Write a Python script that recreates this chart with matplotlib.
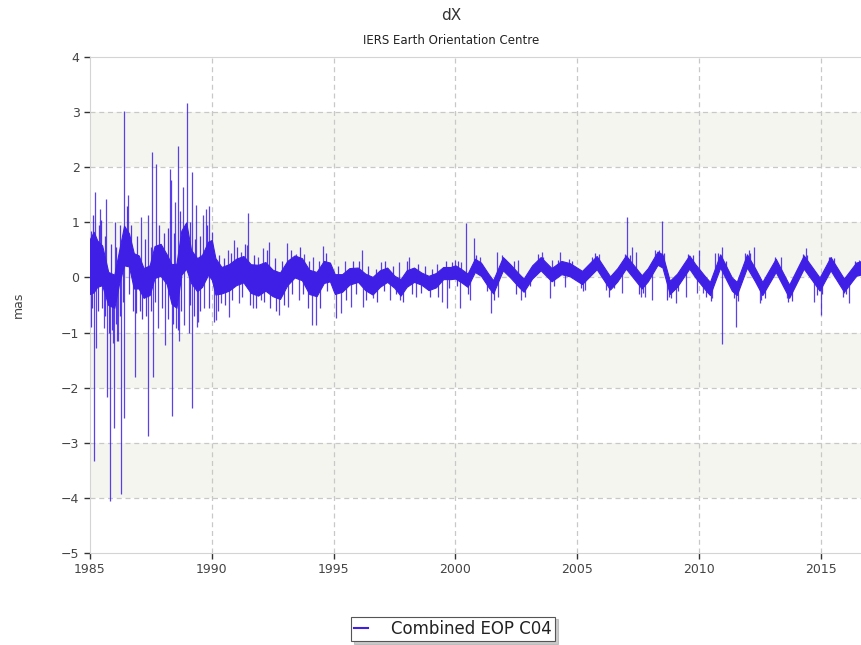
import numpy as np
import matplotlib.pyplot as plt

plt.rcParams['font.family'] = 'DejaVu Sans'

LINE = '#3f1fe6'
BAND = '#f5f5f0'
GRID = '#c8c8c8'

# dense part of the daily series: centre and half-width of the band (mas)
core_year = [1985.0, 1985.15, 1985.3, 1985.5, 1985.75, 1986.0, 1986.2, 1986.4, 1986.6, 1986.8,
             1987.0, 1987.2, 1987.45, 1987.65, 1987.9, 1988.15, 1988.35, 1988.55, 1988.75, 1988.95,
             1989.15, 1989.4, 1989.6, 1989.85, 1990.0, 1990.15, 1990.4, 1990.7, 1991.0, 1991.3,
             1991.6, 1991.9, 1992.2, 1992.5, 1992.8, 1993.1, 1993.4, 1993.7, 1994.0, 1994.3,
             1994.6, 1994.85, 1995.05, 1995.35, 1995.65, 1996.0, 1996.3, 1996.6, 1996.9, 1997.2,
             1997.5, 1997.75, 1998.0, 1998.3, 1998.6, 1998.9, 1999.2, 1999.5, 1999.8,
             2000.0, 2000.25, 2000.5, 2000.8, 2001.05, 2001.35, 2001.55, 2001.95, 2002.25, 2002.6,
             2002.8, 2003.15, 2003.5, 2003.95, 2004.35, 2004.7, 2005.2, 2005.8, 2006.35, 2006.65,
             2007.0, 2007.65, 2007.9, 2008.3, 2008.5, 2008.8, 2009.1, 2009.6, 2009.85, 2010.25,
             2010.45, 2010.87, 2011.35, 2011.55, 2011.97, 2012.3, 2012.6, 2013.15, 2013.7, 2014.3,
             2014.95, 2015.4, 2015.95, 2016.45, 2016.7]
core_mid = [0.2, 0.28, 0.25, 0.22, -0.2, -0.25, 0.2, 0.58, 0.5, 0.12,
            0.1, -0.1, -0.05, 0.28, 0.32, 0.15, -0.12, -0.15, 0.45, 0.58,
            0.2, 0.05, 0.12, 0.35, 0.32, 0.02, -0.05, 0.0, 0.1, 0.15,
            -0.02, -0.05, 0.02, -0.1, -0.15, 0.08, 0.2, 0.15, -0.08, -0.12,
            0.1, 0.1, -0.12, -0.1, 0.02, 0.05, -0.08, -0.15, -0.02, 0.05,
            -0.08, -0.18, -0.02, 0.05, -0.02, -0.1, -0.05, 0.08, 0.08,
            0.1, 0.03, -0.05, 0.22, 0.15, -0.05, -0.17, 0.25, 0.12, -0.05,
            -0.14, 0.1, 0.25, 0.05, 0.18, 0.14, 0.0, 0.27, -0.1, 0.05,
            0.28, -0.08, 0.05, 0.35, 0.3, -0.18, -0.05, 0.28, 0.12, -0.1,
            -0.2, 0.3, -0.12, -0.2, 0.3, 0.05, -0.2, 0.22, -0.25, 0.28,
            -0.12, 0.25, -0.14, 0.15, 0.18]
core_spread = [0.5, 0.55, 0.42, 0.36, 0.3, 0.3, 0.3, 0.36, 0.3, 0.32,
               0.3, 0.27, 0.27, 0.29, 0.29, 0.27, 0.36, 0.4, 0.4, 0.42,
               0.3, 0.3, 0.29, 0.3, 0.36, 0.33, 0.24, 0.24, 0.24, 0.24,
               0.26, 0.28, 0.26, 0.24, 0.24, 0.22, 0.2, 0.2, 0.22, 0.22,
               0.2, 0.17, 0.18, 0.16, 0.15, 0.13, 0.15, 0.16, 0.15, 0.13,
               0.11, 0.15, 0.15, 0.13, 0.11, 0.13, 0.13, 0.11, 0.11,
               0.12, 0.12, 0.12, 0.12, 0.12, 0.12, 0.12, 0.12, 0.12, 0.12,
               0.12, 0.12, 0.12, 0.12, 0.12, 0.12, 0.12, 0.12, 0.12, 0.12,
               0.12, 0.12, 0.12, 0.12, 0.12, 0.12, 0.12, 0.12, 0.12, 0.12,
               0.12, 0.12, 0.12, 0.12, 0.12, 0.12, 0.12, 0.12, 0.12, 0.12,
               0.12, 0.12, 0.12, 0.12, 0.12]

# large isolated excursions (year, mas)
spike_year = [1985.16, 1985.2, 1985.25, 1985.4, 1985.56, 1985.65, 1985.7, 1985.82, 1985.94, 1986.0,
              1986.02, 1986.12, 1986.17, 1986.28, 1986.39, 1986.4, 1986.55, 1986.83, 1987.1, 1987.38,
              1987.4, 1987.55, 1987.6, 1987.72, 1987.8, 1988.1, 1988.3, 1988.33, 1988.36, 1988.5,
              1988.54, 1988.63, 1988.65, 1988.8, 1988.88, 1989.0, 1989.06, 1989.18, 1989.2, 1989.36,
              1989.38, 1989.43, 1989.63, 1989.7, 1989.76, 1989.87, 1990.0, 1990.1, 1990.18, 1990.38,
              1990.65, 1990.72, 1990.93, 1991.13, 1991.2, 1991.45, 1991.5, 1991.68, 1991.9, 1992.0,
              1992.1, 1992.35, 1992.77, 1993.1, 1993.12, 1993.45, 1993.6, 1993.8, 1994.11, 1994.15,
              1994.28, 1994.55, 1995.1, 1995.3, 1995.45, 1995.7, 1996.15, 1996.19, 1996.6, 1996.95,
              1997.3, 1997.7, 1997.72, 1998.1, 1998.37, 1999.25, 1999.47, 1999.67, 1999.97, 2000.18,
              2000.25, 2000.45, 2000.6, 2000.77, 2001.0, 2001.48, 2001.7, 2001.76, 2002.03, 2002.58,
              2002.7, 2003.55, 2003.9, 2003.95, 2004.3, 2004.5, 2004.65, 2005.33, 2005.47, 2005.88,
              2006.2, 2006.85, 2007.03, 2007.25, 2007.4, 2007.6, 2007.8, 2008.08, 2008.2, 2008.48,
              2008.76, 2009.05, 2009.45, 2009.66, 2009.9, 2010.0, 2010.18, 2010.52, 2010.66, 2010.94,
              2010.93, 2011.52, 2012.04, 2012.25, 2012.52, 2013.14, 2013.35, 2013.62, 2014.38, 2014.73,
              2015.0, 2015.41, 2015.96, 2016.17, 2016.58]
spike_val = [-3.33, 1.55, -1.28, 1.25, -0.92, 1.43, -2.16, -4.05, -1.19, -2.73,
             1.0, -1.16, -1.16, -3.93, -2.55, 3.02, 1.49, -1.8, 1.1, -2.88,
             1.13, 2.27, -1.8, 2.06, -0.92, -1.22, 1.97, 1.76, -2.52, 1.37,
             -0.92, 2.39, -1.16, 1.64, -0.86, 3.16, -1.01, -2.37, 1.91, 1.31,
             -0.89, -0.8, 1.13, -0.56, 1.25, 1.3, 0.83, -0.8, -0.77, -0.47,
             0.5, -0.71, 0.68, -0.47, 0.47, 0.59, 1.17, -0.56, 0.37, -0.41,
             0.53, 0.65, -0.68, 0.62, -0.53, 0.43, -0.41, 0.43, -0.86, 0.37,
             -0.86, 0.57, -0.74, -0.65, 0.3, -0.53, 0.5, -0.53, -0.38, 0.28,
             -0.41, 0.28, -0.41, 0.37, -0.35, 0.25, -0.44, -0.56, 0.31, -0.56,
             0.28, 0.98, -0.41, 0.71, 0.37, -0.65, 0.47, -0.35, 0.34, 0.31,
             -0.41, 0.47, -0.38, 0.31, 0.47, -0.17, 0.34, -0.23, 0.22, 0.43,
             -0.22, -0.29, 1.09, 0.56, 0.47, -0.35, -0.35, -0.41, 0.5, 1.03,
             -0.35, -0.47, -0.35, 0.34, -0.29, 0.5, -0.29, -0.38, 0.44, 0.56,
             -1.21, -0.89, 0.5, 0.56, -0.47, 0.34, 0.37, -0.38, 0.53, -0.44,
             -0.68, 0.37, -0.29, -0.46, 0.31]

# smaller day-to-day scatter along the edges of the band (year, mas)
minor_year = [1985.05, 1985.12, 1985.35, 1985.45, 1985.6, 1985.88, 1986.08, 1986.25, 1986.5, 1986.7,
              1986.95, 1987.25, 1987.5, 1987.85, 1988.05, 1988.2, 1988.45, 1988.7, 1989.1, 1989.3,
              1989.5, 1989.8,
              1985.03, 1985.1, 1985.33, 1985.48, 1985.62, 1985.78, 1985.9, 1986.05, 1986.22, 1986.35,
              1986.62, 1986.75, 1986.9, 1987.05, 1987.15, 1987.3, 1987.52, 1987.68, 1987.95, 1988.22,
              1988.42, 1988.6, 1988.72, 1989.12, 1989.25, 1989.52, 1989.9,
              1990.3, 1990.5, 1990.8, 1991.05, 1991.35, 1991.75, 1992.25, 1992.6, 1992.9, 1993.25,
              1993.62, 1994.0, 1994.4, 1994.7, 1995.2, 1995.8, 1996.05, 1996.4, 1996.75, 1997.1,
              1997.45, 1998.0, 1998.45, 1998.75, 1999.05, 1999.6, 1999.85,
              1990.25, 1990.55, 1990.85, 1991.25, 1991.55, 1991.8, 1992.15, 1992.4, 1992.62, 1992.95,
              1993.3, 1993.75, 1993.95, 1994.45, 1994.75, 1995.5, 1995.9, 1996.35, 1996.8, 1997.05,
              1997.55, 1997.85, 1998.2, 1998.6, 1998.95, 1999.3, 1999.75,
              2000.1, 2000.85, 2001.92, 2002.4, 2003.4, 2003.6, 2004.2, 2004.8, 2005.6, 2005.75,
              2006.7, 2006.95, 2007.15, 2008.35, 2008.55, 2009.55, 2009.75, 2010.8, 2011.1, 2011.9,
              2012.1, 2013.1, 2014.25, 2014.45, 2015.35, 2015.55, 2016.4, 2016.62,
              2000.05, 2000.5, 2001.3, 2001.6, 2002.5, 2002.85, 2003.05, 2004.05, 2005.15, 2005.25,
              2006.3, 2006.5, 2007.55, 2007.7, 2008.7, 2008.85, 2009.15, 2010.3, 2010.5, 2011.45,
              2011.6, 2012.55, 2012.7, 2013.65, 2013.8, 2014.85, 2015.05, 2015.9, 2016.05]
minor_val = [0.85, 1.13, 0.95, 1.05, 0.75, 0.6, 0.55, 0.95, 1.3, 0.95,
             0.75, 0.7, 0.55, 0.95, 0.8, 0.9, 0.8, 1.2, 1.0, 0.7,
             0.75, 0.95,
             -0.9, -0.55, -0.6, -0.55, -0.7, -1.0, -0.95, -0.85, -0.7, -0.45,
             -0.3, -0.6, -0.65, -0.6, -0.75, -0.7, -0.6, -0.45, -0.55, -0.75,
             -0.85, -0.95, -0.6, -0.5, -0.7, -0.6, -0.55,
             0.4, 0.35, 0.45, 0.55, 0.6, 0.4, 0.5, 0.35, 0.3, 0.5,
             0.55, 0.3, 0.3, 0.45, 0.2, 0.3, 0.3, 0.2, 0.15, 0.3,
             0.2, 0.3, 0.25, 0.2, 0.15, 0.3, 0.28,
             -0.6, -0.5, -0.4, -0.35, -0.5, -0.55, -0.45, -0.55, -0.6, -0.5,
             -0.3, -0.3, -0.55, -0.55, -0.25, -0.4, -0.3, -0.4, -0.45, -0.25,
             -0.3, -0.45, -0.3, -0.28, -0.35, -0.35, -0.2,
             0.3, 0.4, 0.4, 0.3, 0.42, 0.38, 0.32, 0.3, 0.38, 0.45,
             0.2, 0.42, 0.4, 0.5, 0.45, 0.42, 0.4, 0.45, 0.3, 0.45,
             0.45, 0.38, 0.42, 0.4, 0.38, 0.35, 0.3, 0.3,
             -0.15, -0.3, -0.25, -0.4, -0.3, -0.35, -0.15, -0.15, -0.2, -0.25,
             -0.35, -0.2, -0.3, -0.28, -0.4, -0.38, -0.25, -0.35, -0.42, -0.38,
             -0.42, -0.4, -0.38, -0.45, -0.42, -0.32, -0.3, -0.35, -0.3]

year_ticks = [1985, 1990, 1995, 2000, 2005, 2010, 2015]
mas_ticks = [-5, -4, -3, -2, -1, 0, 1, 2, 3, 4]
shaded_bands = [(2, 3), (0, 1), (-2, -1), (-4, -3)]

fig = plt.figure(figsize=(8.61, 6.45), dpi=100)
ax = fig.add_axes([0.1045, 0.1426, 0.8955, 0.769])

for lo, hi in shaded_bands:
    ax.axhspan(lo, hi, color=BAND, lw=0, zorder=0)

for yr in year_ticks[1:]:
    ax.axvline(yr, color=GRID, lw=0.9, dashes=(4, 3), zorder=1)
for v in mas_ticks[1:-1]:
    ax.axhline(v, color=GRID, lw=0.9, dashes=(4, 3), zorder=1)

mid = np.array(core_mid)
spread = np.array(core_spread)
ax.fill_between(core_year, mid - spread, mid + spread, color=LINE, lw=0.8, zorder=3)

base = np.interp(spike_year, core_year, core_mid)
ax.vlines(spike_year, base, spike_val, color=LINE, lw=0.9, alpha=0.85, zorder=3)
base = np.interp(minor_year, core_year, core_mid)
ax.vlines(minor_year, base, minor_val, color=LINE, lw=0.9, alpha=0.9, zorder=3)

ax.set_xlim(1985, 2016.65)
ax.set_ylim(-5, 4)
ax.set_xticks(year_ticks)
ax.set_yticks(mas_ticks)
ax.tick_params(direction='out', length=4, width=1, color='#333333',
               labelcolor='#444444', labelsize=9)
for side in ['left', 'bottom', 'top']:
    ax.spines[side].set_color('#d4d4d4')
ax.spines['right'].set_visible(False)

fig.text(0.524, 1 - 16 / 645, 'dX', ha='center', va='center', fontsize=11, color='#333333')
fig.text(0.524, 1 - 40 / 645, 'IERS Earth Orientation Centre', ha='center', va='center',
         fontsize=8.5, color='#222222')
fig.text(18 / 861, 1 - 305 / 645, 'mas', rotation=90, ha='center', va='center',
         fontsize=9, color='#444444')

handle, = ax.plot([], [], color=LINE, lw=1.5, label='Combined EOP C04')
leg = fig.legend(handles=[handle], loc='center', bbox_to_anchor=(453 / 861, 1 - 629 / 645),
                 fontsize=12, frameon=True, fancybox=False, shadow={'color': '#999999'},
                 handlelength=0.8, handletextpad=1.4, borderpad=0.2)
leg.get_frame().set_edgecolor('#555555')
leg.get_frame().set_linewidth(0.8)
for t in leg.get_texts():
    t.set_color('#222222')

fig.savefig('out.png', dpi=100)
